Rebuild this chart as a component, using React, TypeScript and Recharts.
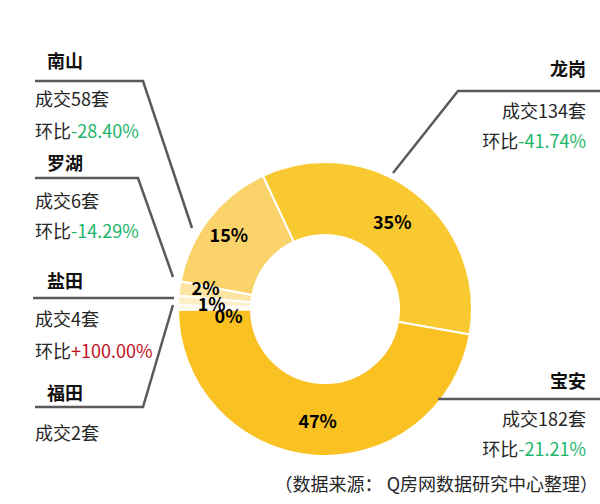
import { PieChart, Pie, Cell } from 'recharts'

// order follows the slices clockwise from the top boundary
const districts = ['龙岗', '宝安', '福田', '盐田', '罗湖', '南山']
const deals = [134, 182, 2, 4, 6, 58]
const changes = ['-41.74%', '-21.21%', '', '+100.00%', '-14.29%', '-28.40%']
const pctLabels = ['35%', '47%', '0%', '1%', '2%', '15%']
const colors = ['#F9C932', '#F9C222', '#FEF6E2', '#FDEFC8', '#FCE4A2', '#FAD46A']

const data = districts.map((name, i) => ({ name, value: deals[i] }))

const FONT = '"Noto Sans CJK SC", "Noto Sans", sans-serif'
const LINE = '#5a5a5a'

// callout layout per slice (same index as districts)
const callouts = [
  { side: 'right', title: 68, l1: 110, l2: 140, leader: [[600, 91], [458, 91], [393, 173]] },
  { side: 'right', title: 380, l1: 418, l2: 448, leader: [[600, 399], [438, 399]] },
  { side: 'left', title: 392, l1: 432, l2: 0, leader: [[35, 407], [143, 407], [173, 305]] },
  { side: 'left', title: 280, l1: 318, l2: 350, leader: [[33, 298], [174, 298]] },
  { side: 'left', title: 162, l1: 200, l2: 230, leader: [[35, 178], [138, 178], [173, 277]] },
  { side: 'left', title: 60, l1: 98, l2: 130, leader: [[35, 81], [143, 81], [192, 228]] },
]

// small nudges so the crowded labels don't sit on top of each other
const nudge = [[0, 0], [2, 1], [14, 7], [-3, 1], [-10, -6], [-9, -7]]

const RAD = Math.PI / 180

function renderPct(props: any) {
  const { cx, cy, midAngle, innerRadius, outerRadius, index } = props
  const r = (innerRadius + outerRadius) / 2
  const x = cx + r * Math.cos(-midAngle * RAD) + nudge[index][0]
  const y = cy + r * Math.sin(-midAngle * RAD) + nudge[index][1]
  return (
    <text
      x={x}
      y={y}
      textAnchor="middle"
      dominantBaseline="central"
      fontFamily={FONT}
      fontWeight="bold"
      fontSize={18}
      fill="#000"
    >
      {pctLabels[index]}
    </text>
  )
}

export default function App() {
  return (
    <div style={{ position: 'absolute', left: 0, top: 0, width: 600, height: 504, background: '#fff' }}>
      <PieChart width={600} height={504}>
        <Pie
          data={data}
          dataKey="value"
          cx={320}
          cy={304}
          innerRadius={74}
          outerRadius={147}
          startAngle={115}
          endAngle={-245}
          stroke="#fff"
          strokeWidth={2}
          label={renderPct}
          labelLine={false}
          isAnimationActive={false}
        >
          {data.map((entry, index) => (
            <Cell key={`cell-${index}`} fill={colors[index]} />
          ))}
        </Pie>
      </PieChart>
      <svg
        width={600}
        height={504}
        style={{ position: 'absolute', left: 0, top: 0, pointerEvents: 'none' }}
      >
        {callouts.map((c, i) => {
          const left = c.side === 'left'
          const tx = left ? 35 : 586
          const anchor = left ? 'start' : 'end'
          const up = changes[i].startsWith('+')
          return (
            <g key={districts[i]}>
              <polyline
                points={c.leader.map((p) => p.join(',')).join(' ')}
                fill="none"
                stroke={LINE}
                strokeWidth={2.5}
              />
              <text
                x={left ? 47 : 586}
                y={c.title}
                textAnchor={anchor}
                dominantBaseline="central"
                fontFamily={FONT}
                fontWeight="bold"
                fontSize={18}
                fill="#111"
              >
                {districts[i]}
              </text>
              <text
                x={tx}
                y={c.l1}
                textAnchor={anchor}
                dominantBaseline="central"
                fontFamily={FONT}
                fontSize={18}
                fill="#262626"
              >
                {`成交${deals[i]}套`}
              </text>
              {changes[i] && (
                <text
                  x={tx}
                  y={c.l2}
                  textAnchor={anchor}
                  dominantBaseline="central"
                  fontFamily={FONT}
                  fontSize={18}
                  fill="#262626"
                >
                  环比
                  <tspan fill={up ? '#C0111F' : '#1DB56A'}>{changes[i]}</tspan>
                </text>
              )}
            </g>
          )
        })}
        <text
          x={598}
          y={483}
          textAnchor="end"
          dominantBaseline="central"
          fontFamily={FONT}
          fontSize={18}
          fill="#262626"
        >
          （数据来源： Q房网数据研究中心整理）
        </text>
      </svg>
    </div>
  )
}
